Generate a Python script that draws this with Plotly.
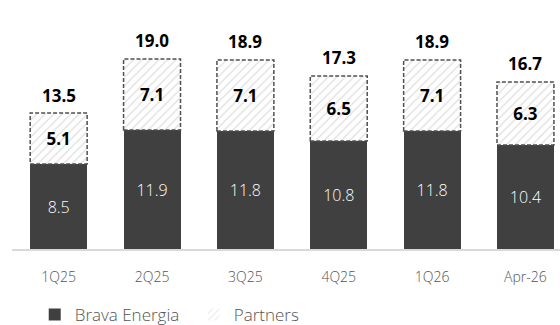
import plotly.graph_objects as go

categories = ["1Q25", "2Q25", "3Q25", "4Q25", "1Q26", "Apr-26"]
brava = [8.5, 11.9, 11.8, 10.8, 11.8, 10.4]
partners = [5.1, 7.1, 7.1, 6.5, 7.1, 6.3]
totals = [13.5, 19.0, 18.9, 17.3, 18.9, 16.7]

FONT = "'Open Sans', 'Noto Sans', sans-serif"
BAR_W = 0.61

fig = go.Figure()
fig.add_trace(go.Bar(
    x=categories, y=brava, name="Brava Energia", width=BAR_W,
    marker=dict(color="#404040", line=dict(width=0)),
    text=[f"{v:.1f}" for v in brava], textposition="inside",
    insidetextanchor="middle",
    textfont=dict(color="white", size=16, family=FONT, weight=300),
))
fig.add_trace(go.Bar(
    x=categories, y=partners, name="Partners", width=BAR_W,
    marker=dict(color="white", line=dict(width=0),
                pattern=dict(shape="/", fgcolor="#bdbdbd", bgcolor="white",
                             size=6, solidity=0.2)),
    text=[f"{v:.1f}" for v in partners], textposition="inside",
    insidetextanchor="middle",
    textfont=dict(color="black", size=17, family=FONT, weight="bold"),
))

# dashed outlines for partner segments, from data
for i, (b, p) in enumerate(zip(brava, partners)):
    fig.add_shape(type="rect", xref="x", yref="y",
                  x0=i - BAR_W / 2, x1=i + BAR_W / 2, y0=b, y1=b + p,
                  line=dict(color="#505050", width=1.5, dash="4px,2px"),
                  fillcolor="rgba(0,0,0,0)", layer="above")

for c, t in zip(categories, totals):
    fig.add_annotation(x=c, y=t, text=f"{t:.1f}", showarrow=False,
                       yanchor="bottom", yshift=5,
                       font=dict(color="black", size=17, family=FONT, weight="bold"))

fig.update_layout(
    width=560, height=325,
    margin=dict(l=12, r=0, t=20, b=76, autoexpand=False),
    barmode="stack",
    plot_bgcolor="white", paper_bgcolor="white",
    font=dict(family=FONT, color="#555555"),
    xaxis=dict(range=[-0.5, 5.37], showline=True, linecolor="#d9d9d9",
               linewidth=1.5, ticks="", ticklabelstandoff=14,
               tickfont=dict(size=14, color="#555555", weight=300)),
    yaxis=dict(range=[0, 22.9], visible=False, showgrid=False),
    showlegend=True,
    legend=dict(orientation="h", xref="container", yref="container",
                x=0.062, y=0.086, xanchor="left", yanchor="top",
                font=dict(size=17, color="#555555", weight=300),
                entrywidth=114, traceorder="normal"),
)

fig.write_html("out.html")
